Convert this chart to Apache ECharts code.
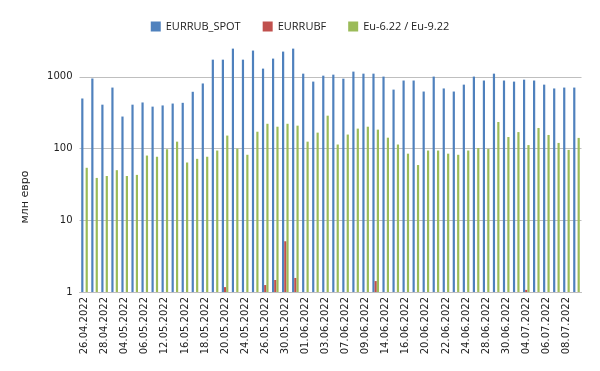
<!DOCTYPE html>
<html>
<head>
<meta charset="utf-8">
<script src="https://cdn.jsdelivr.net/npm/echarts@6/dist/echarts.min.js"></script>
<style>html,body{margin:0;padding:0;background:#fff;}#c{width:600px;height:371px;}</style>
</head>
<body>
<div id="c"></div>
<script>
const categories = ["26.04.2022","27.04.2022","28.04.2022","29.04.2022","04.05.2022","05.05.2022","06.05.2022","11.05.2022","12.05.2022","13.05.2022","16.05.2022","17.05.2022","18.05.2022","19.05.2022","20.05.2022","23.05.2022","24.05.2022","25.05.2022","26.05.2022","27.05.2022","30.05.2022","31.05.2022","01.06.2022","02.06.2022","03.06.2022","06.06.2022","07.06.2022","08.06.2022","09.06.2022","10.06.2022","14.06.2022","15.06.2022","16.06.2022","17.06.2022","20.06.2022","21.06.2022","22.06.2022","23.06.2022","24.06.2022","27.06.2022","28.06.2022","29.06.2022","30.06.2022","01.07.2022","04.07.2022","05.07.2022","06.07.2022","07.07.2022","08.07.2022","11.07.2022"];
const eurrubSpot = [500,950,410,710,280,410,440,385,400,425,435,620,810,1740,1740,2480,1740,2330,1305,1800,2255,2480,1110,860,1040,1075,945,1185,1110,1110,1010,665,890,890,625,1010,690,625,780,1010,890,1110,890,860,915,890,780,690,710,710];
const eurrubf = [null,null,null,null,null,null,null,null,null,null,null,null,null,null,1.17,null,null,null,1.25,1.47,5.1,1.57,null,null,null,null,null,null,null,1.42,null,null,null,null,null,null,null,null,null,null,null,null,null,null,1.07,null,null,null,null,null];
const euFutures = [54,39,41.5,50,41.5,43,80,77,98,125,64,72,77,94,152,100,82,172,222,202,222,209,125,167,288,114,157,190,202,184,142,114,85,59,94,94,85,82,94,102,99,235,145,170,112,194,155,120,96,141];
const seriesNames = ["EURRUB_SPOT","EURRUBF","Eu-6.22 / Eu-9.22"];
const yAxisName = "млн евро";

const chart = echarts.init(document.getElementById('c'), null, {renderer:'canvas'});
const font = "DejaVu Sans";
chart.setOption({
  animation:false,
  color:["#4F81BD","#C0504D","#9BBB59"],
  legend:{
    top:16, left:'center', itemWidth:10, itemHeight:10, itemGap:22,
    icon:'rect',
    textStyle:{fontFamily:"Open Sans", fontSize:11, color:"#222"},
    data:seriesNames
  },
  grid:{left:79.5, right:18.5, top:45, bottom:79, containLabel:false},
  graphic:[{
    type:'text', x:25, y:197, rotation:Math.PI/2,
    style:{text:yAxisName, font:"11px 'DejaVu Sans'", fill:"#222", align:'center', verticalAlign:'middle'}
  }],
  xAxis:{
    type:'category', data:categories, boundaryGap:true,
    axisTick:{show:false},
    axisLine:{show:true, lineStyle:{color:"#bfbfbf"}},
    axisLabel:{rotate:90, interval:1, fontFamily:font, fontSize:10, color:"#222", margin:5}
  },
  yAxis:{
    type:'log', logBase:10, min:1, max:2786,
    axisLine:{show:false}, axisTick:{show:false},
    axisLabel:{fontFamily:font, fontSize:10, color:"#222", margin:7, showMaxLabel:false,
      formatter:function(v){return String(Math.round(v));}},
    splitLine:{show:true, showMaxLine:false, lineStyle:{color:"#bfbfbf"}}
  },
  series:[
    {name:seriesNames[0], type:'bar', data:eurrubSpot, barWidth:2.2, barGap:'0%'},
    {name:seriesNames[1], type:'bar', data:eurrubf, barWidth:2.2, barGap:'0%'},
    {name:seriesNames[2], type:'bar', data:euFutures, barWidth:2.2, barGap:'0%'}
  ]
});
</script>
</body>
</html>
